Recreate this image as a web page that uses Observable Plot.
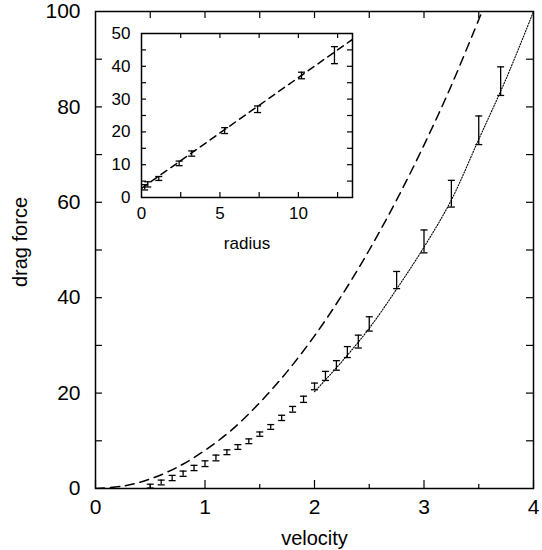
<!DOCTYPE html>
<html>
<head>
<meta charset="utf-8">
<script src="https://cdn.jsdelivr.net/npm/d3@7"></script>
<script src="https://cdn.jsdelivr.net/npm/@observablehq/plot@0.6"></script>
<style>
  body { margin: 0; background: white; }
  #wrap { position: relative; width: 542px; height: 550px; background: white; }
  #inset { position: absolute; left: 95px; top: 31px; }
  #main { position: absolute; left: 0; top: 0; }
</style>
</head>
<body>
<div id="wrap"><div id="main"></div><div id="inset"></div></div>
<script>
// ---- main chart data ----
const velocity = [0.5,0.6,0.7,0.8,0.9,1.0,1.1,1.2,1.3,1.4,1.5,1.6,1.7,1.8,1.9,2.0,2.1,2.2,2.3,2.4,2.5,2.75,3.0,3.25,3.5,3.7];
const dragForce = [0.5,1.26,2.2,3.1,4.3,5.2,6.4,7.6,8.7,9.9,11.4,12.9,14.8,16.6,18.7,21.4,23.6,25.8,28.6,30.8,34.5,43.7,51.8,61.8,75.1,85.4];
const dragError = [0.4,0.5,0.55,0.55,0.55,0.6,0.6,0.5,0.5,0.5,0.45,0.5,0.55,0.6,0.65,0.7,0.95,1.0,1.15,1.35,1.5,1.8,2.4,2.8,3.0,3.0];

// dashed curve
const dashedV = [0,0.25,0.5,0.75,1.0,1.25,1.5,1.75,2.0,2.25,2.5,2.75,3.0,3.25,3.53];
const dashedF = [0,0.5,2.0,4.5,8.0,12.4,18.0,24.5,32.0,40.5,50.0,60.5,72.0,84.5,100];

// dotted curve
const dottedV = [2.0,2.25,2.5,2.75,3.0,3.25,3.5,3.75,4.0];
const dottedF = [20.3,26.6,33.6,41.8,50.6,60.5,73.2,85.9,100];

const xTicks = [0,1,2,3,4];
const xMinor = [0.5,1.5,2.5,3.5];
const xTop = [0.5,1,1.5,2,2.5,3,3.5];
const yTicks = [0,20,40,60,80,100];
const yMinor = [10,20,30,40,50,60,70,80,90];

// ---- inset data ----
const radius = [0.2,0.4,1.1,2.4,3.2,5.3,7.4,10.2,12.3];
const insetForce = [3.1,4.0,5.8,10.4,13.4,20.4,26.9,37.2,43.4];
const insetError = [0.8,0.8,0.6,0.7,0.8,0.9,1.0,1.0,2.6];
const fitR = [0,13.45];
const fitF = [2.8,48.2];
const rTicks = [0,5,10];
const rMinor = [2.5,5,7.5,10,12.5];
const fTicks = [0,10,20,30,40,50];
const fMinor = [5,10,15,20,25,30,35,40,45];

const points = velocity.map((v,i) => ({v, f: dragForce[i], e: dragError[i]}));
const dashed = dashedV.map((v,i) => ({v, f: dashedF[i]}));
const dotted = dottedV.map((v,i) => ({v, f: dottedF[i]}));
const ipoints = radius.map((r,i) => ({r, f: insetForce[i], e: insetError[i]}));
const fit = fitR.map((r,i) => ({r, f: fitF[i]}));

const cap = (hw) => ({draw(ctx){ ctx.moveTo(-hw,0); ctx.lineTo(hw,0); }});
const font = "'Liberation Sans', Arial, Helvetica, sans-serif";

// ---- main plot ----
const W = 542, H = 550, mL = 95, mR = 9, mT = 11, mB = 62;
const pw = W - mL - mR, ph = H - mT - mB;
const main = Plot.plot({
  width: W, height: H,
  marginLeft: mL, marginRight: mR, marginTop: mT, marginBottom: mB,
  style: {fontFamily: font, background: "white", overflow: "visible"},
  x: {domain: [0,4], axis: null},
  y: {domain: [0,100], axis: null},
  marks: [
    Plot.line(dashed, {x: "v", y: "f", curve: "catmull-rom", stroke: "black", strokeWidth: 1.5, strokeDasharray: "9,6", clip: true}),
    Plot.line(dotted, {x: "v", y: "f", curve: "catmull-rom", stroke: "black", strokeWidth: 1.1, strokeDasharray: "1.2,1.6", clip: true}),
    Plot.ruleX(points, {x: "v", y1: d => d.f - d.e, y2: d => d.f + d.e, stroke: "black", strokeWidth: 1.3}),
    Plot.dot(points, {x: "v", y: d => d.f - d.e, symbol: cap(3.5), stroke: "black", strokeWidth: 1.3, r: 3}),
    Plot.dot(points, {x: "v", y: d => d.f + d.e, symbol: cap(3.5), stroke: "black", strokeWidth: 1.3, r: 3}),
    Plot.tickX(xTicks, {x: d => d, insetTop: ph - 8, stroke: "black", strokeWidth: 1.2}),
    Plot.tickX(xMinor, {x: d => d, insetTop: ph - 4, stroke: "black", strokeWidth: 1.2}),
    Plot.tickX(xTop, {x: d => d, insetBottom: ph - 7, stroke: "black", strokeWidth: 1.2}),
    Plot.tickY(yMinor, {y: d => d, insetRight: pw - 7, stroke: "black", strokeWidth: 1.2}),
    Plot.tickY(yMinor, {y: d => d, insetLeft: pw - 7, stroke: "black", strokeWidth: 1.2}),
    Plot.frame({stroke: "black", strokeWidth: 1.5}),
    Plot.axisX(xTicks, {tickSize: 0, tickPadding: 11, fontSize: 21, label: null, fill: "black"}),
    Plot.axisY(yTicks, {tickSize: 0, tickPadding: 15, fontSize: 21, label: null, fill: "black"}),
    Plot.text(["velocity"], {frameAnchor: "bottom", dy: 56, text: d => d, fontSize: 20, lineAnchor: "bottom", textAnchor: "middle", fill: "black"}),
    Plot.text(["drag force"], {frameAnchor: "left", dx: -75, dy: -8, text: d => d, fontSize: 20, rotate: -90, lineAnchor: "middle", textAnchor: "middle", fill: "black"})
  ]
});
document.getElementById("main").append(main);

// ---- inset plot ----
const iW = 259, iH = 222, iL = 46, iR = 2, iT = 2, iB = 56;
const ipw = iW - iL - iR, iph = iH - iT - iB;
const inset = Plot.plot({
  width: iW, height: iH,
  marginLeft: iL, marginRight: iR, marginTop: iT, marginBottom: iB,
  style: {fontFamily: font, background: "transparent", overflow: "visible"},
  x: {domain: [0,13.45], axis: null},
  y: {domain: [0,50], axis: null},
  marks: [
    Plot.frame({fill: "white"}),
    Plot.line(fit, {x: "r", y: "f", stroke: "black", strokeWidth: 1.5, strokeDasharray: "7,5", clip: true}),
    Plot.ruleX(ipoints, {x: "r", y1: d => d.f - d.e, y2: d => d.f + d.e, stroke: "black", strokeWidth: 1.3}),
    Plot.dot(ipoints, {x: "r", y: d => d.f - d.e, symbol: cap(3.5), stroke: "black", strokeWidth: 1.3, r: 3}),
    Plot.dot(ipoints, {x: "r", y: d => d.f + d.e, symbol: cap(3.5), stroke: "black", strokeWidth: 1.3, r: 3}),
    Plot.tickX(rMinor, {x: d => d, insetTop: iph - 5, stroke: "black", strokeWidth: 1.2}),
    Plot.tickX(rMinor, {x: d => d, insetBottom: iph - 5, stroke: "black", strokeWidth: 1.2}),
    Plot.tickY(fMinor, {y: d => d, insetRight: ipw - 5, stroke: "black", strokeWidth: 1.2}),
    Plot.tickY(fMinor, {y: d => d, insetLeft: ipw - 5, stroke: "black", strokeWidth: 1.2}),
    Plot.frame({stroke: "black", strokeWidth: 1.5}),
    Plot.axisX(rTicks, {tickSize: 0, tickPadding: 9, fontSize: 17, label: null, fill: "black"}),
    Plot.axisY(fTicks, {tickSize: 0, tickPadding: 11, fontSize: 17, label: null, fill: "black"}),
    Plot.text(["radius"], {frameAnchor: "bottom", dy: 51, text: d => d, fontSize: 17, lineAnchor: "bottom", fill: "black"})
  ]
});
document.getElementById("inset").append(inset);
</script>
</body>
</html>
